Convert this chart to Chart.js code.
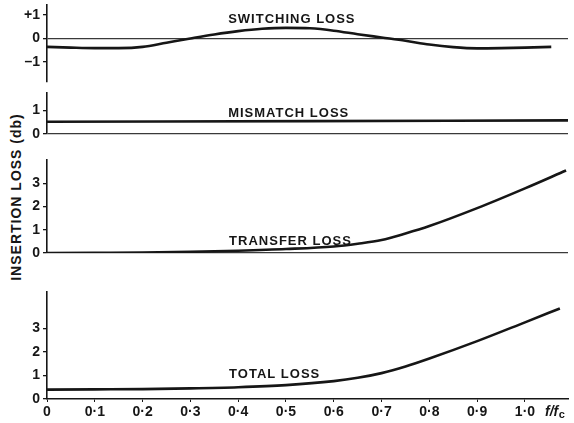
<!DOCTYPE html>
<html>
<head>
<meta charset="utf-8">
<script src="https://cdn.jsdelivr.net/npm/chart.js@4.4.1/dist/chart.umd.min.js"></script>
<style>
  html, body { margin: 0; padding: 0; background: #fff; }
  body { width: 574px; height: 423px; position: relative; overflow: hidden; }
  canvas.panel { position: absolute; left: 0; }
  .ytitle {
    position: absolute; left: 16px; top: 197px;
    transform: translate(-50%, -50%) rotate(-90deg);
    font: bold 14px "Liberation Sans", sans-serif; letter-spacing: 1px;
    white-space: nowrap; color: #161616;
  }
</style>
</head>
<body>
<div class="ytitle">INSERTION LOSS (db)</div>
<canvas id="pSwitching" class="panel" width="574" height="90"  style="top:0px"></canvas>
<canvas id="pMismatch"  class="panel" width="574" height="57"  style="top:85px"></canvas>
<canvas id="pTransfer"  class="panel" width="574" height="109" style="top:152px"></canvas>
<canvas id="pTotal"     class="panel" width="574" height="139" style="top:284px"></canvas>
<script>
// ---------- data : loss (db) against f/fc ----------
const fTicks = [0, 0.1, 0.2, 0.3, 0.4, 0.5, 0.6, 0.7, 0.8, 0.9, 1.0];

const fSwitching    = [0, 0.05, 0.1, 0.15, 0.2, 0.25, 0.3, 0.35, 0.4, 0.45, 0.5, 0.55, 0.6, 0.65, 0.7, 0.75, 0.8, 0.85, 0.9, 0.95, 1.0, 1.055];
const switchingLoss = [-0.36, -0.39, -0.41, -0.41, -0.36, -0.18, 0, 0.17, 0.31, 0.41, 0.45, 0.43, 0.33, 0.18, 0.04, -0.1, -0.26, -0.37, -0.42, -0.41, -0.39, -0.36];

const fMismatch    = [0, 0.55, 1.09];
const mismatchLoss = [0.52, 0.55, 0.58];

const fTransfer    = [0, 0.1, 0.2, 0.3, 0.4, 0.5, 0.6, 0.65, 0.7, 0.75, 0.8, 0.9, 1.0, 1.086];
const transferLoss = [0, 0.01, 0.02, 0.05, 0.1, 0.17, 0.28, 0.4, 0.56, 0.84, 1.16, 1.93, 2.78, 3.55];

const fTotal    = [0, 0.1, 0.2, 0.3, 0.4, 0.5, 0.6, 0.65, 0.7, 0.75, 0.8, 0.9, 1.0, 1.073];
const totalLoss = [0.4, 0.41, 0.42, 0.45, 0.5, 0.59, 0.76, 0.9, 1.1, 1.38, 1.72, 2.46, 3.26, 3.85];

const switchingTicks = [-1, 0, 1];
const mismatchTicks  = [0, 1];
const lossTicks      = [0, 1, 2, 3];

// ---------- look ----------
const INK = '#161616';
const X_MAX = 1.09;
const FONT = '"Liberation Sans", sans-serif';
Chart.defaults.font.family = FONT;
Chart.defaults.font.weight = 'bold';
Chart.defaults.font.size = 14;
Chart.defaults.color = INK;

const dotFmt = v => v === 0 ? '0' : v.toFixed(1).replace('.', '\u00b7');

// curve name written on the plot, anchored in data units
const curveLabel = {
  id: 'curveLabel',
  afterDatasetsDraw(chart, args, opts) {
    const { ctx, scales: { x, y }, chartArea } = chart;
    ctx.save();
    ctx.fillStyle = INK;
    ctx.textBaseline = 'alphabetic';
    ctx.font = 'bold 13px ' + FONT;
    ctx.letterSpacing = '1px';
    ctx.fillText(opts.text, x.getPixelForValue(opts.at[0]), y.getPixelForValue(opts.at[1]));
    if (opts.axisName) {   // f/fc at the end of the frequency axis
      ctx.letterSpacing = '0px';
      const px = x.getPixelForValue(1.042), py = chartArea.bottom + 17;
      ctx.font = 'italic bold 14px ' + FONT;
      ctx.fillText('f/f', px, py);
      const w = ctx.measureText('f/f').width;
      ctx.font = 'bold 11px ' + FONT;
      ctx.fillText('c', px + w + 0.5, py + 2);
    }
    ctx.restore();
  }
};

function panel(id, o) {
  const pts = o.f.map((f, i) => ({ x: f, y: o.v[i] }));
  return new Chart(document.getElementById(id), {
    type: 'line',
    data: { datasets: [{ data: pts, borderColor: INK, borderWidth: 2.6, pointRadius: 0, cubicInterpolationMode: 'monotone', fill: false }] },
    options: {
      responsive: false, animation: false, devicePixelRatio: 1,
      layout: { padding: { top: o.padTop, bottom: o.padBottom, left: 0, right: 6 } },
      plugins: {
        legend: { display: false }, tooltip: { enabled: false },
        curveLabel: { text: o.label, at: o.labelAt, axisName: !!o.showX },
      },
      scales: {
        x: {
          type: 'linear', min: 0, max: X_MAX, display: !!o.showX,
          afterBuildTicks: s => { s.ticks = fTicks.map(v => ({ value: v })); },
          afterFit: s => { s.height = o.showX ? 24 : 0; s.paddingLeft = 0; s.paddingRight = 0; },
          border: { display: true, color: INK, width: 1.6 },
          grid: { drawOnChartArea: false, drawTicks: true, tickLength: 3, color: INK },
          ticks: { padding: 2, maxRotation: 0, autoSkip: false, callback: dotFmt },
        },
        y: {
          type: 'linear', min: o.min, max: o.max,
          afterBuildTicks: s => { s.ticks = o.ticks.map(v => ({ value: v })); },
          afterFit: s => { s.width = 47; s.paddingTop = 0; s.paddingBottom = 0; },
          border: { display: true, color: INK, width: 1.6 },
          grid: {
            drawOnChartArea: true, tickLength: 4, tickColor: INK,
            color: c => (o.zeroLine && c.tick && c.tick.value === 0) ? '#3a3a3a' : 'rgba(0,0,0,0)',
            lineWidth: 1.3,
          },
          ticks: { padding: 3, callback: o.fmt || (v => String(v)) },
        },
      },
    },
    plugins: [curveLabel],
  });
}

panel('pSwitching', {
  f: fSwitching, v: switchingLoss, min: -1.85, max: 1.42, ticks: switchingTicks,
  fmt: v => v > 0 ? '+' + v : v < 0 ? '\u2013' + Math.abs(v) : '0',
  padTop: 5, padBottom: 8, zeroLine: true,
  label: 'SWITCHING LOSS', labelAt: [0.379, 0.65],
});
panel('pMismatch', {
  f: fMismatch, v: mismatchLoss, min: 0, max: 1.75, ticks: mismatchTicks,
  padTop: 8, padBottom: 8, zeroLine: true,
  label: 'MISMATCH LOSS', labelAt: [0.379, 0.73],
});
panel('pTransfer', {
  f: fTransfer, v: transferLoss, min: 0, max: 4, ticks: lossTicks,
  padTop: 8, padBottom: 8, zeroLine: true,
  label: 'TRANSFER LOSS', labelAt: [0.381, 0.34],
});
panel('pTotal', {
  f: fTotal, v: totalLoss, min: 0, max: 4.55, ticks: lossTicks,
  padTop: 8, padBottom: 0, zeroLine: false, showX: true,
  label: 'TOTAL LOSS', labelAt: [0.381, 0.89],
});
</script>
</body>
</html>
